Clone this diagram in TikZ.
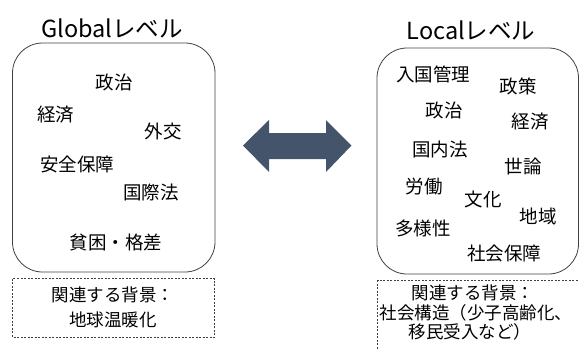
\documentclass[tikz,border=0pt]{standalone}
\usepackage{fontspec}
\setmainfont{Noto Sans CJK JP}
\definecolor{arrowblue}{HTML}{44546A}
\definecolor{lineg}{HTML}{404040}
\begin{document}
\begin{tikzpicture}[x=1pt,y=-1pt,
  word/.style={inner sep=0pt,font=\fontsize{18.5}{20}\selectfont},
  title/.style={inner sep=0pt,font=\fontsize{23.5}{25}\selectfont},
  bg/.style={inner sep=0pt,align=center,font=\fontsize{17.5}{20}\selectfont},
  levelbox/.style={draw=lineg,line width=0.8pt,rounded corners=30pt},
  bgbox/.style={draw=lineg,line width=0.7pt,dash pattern=on 2pt off 1.5pt}]
\useasboundingbox (0,0) rectangle (579,349);
% titles
\node[title] (gt) at (112,28) {Globalレベル};
\node[title] (lt) at (471,30) {Localレベル};
% boxes
\draw[levelbox] (12.5,43) rectangle (215,272);
\draw[levelbox] (377,48) rectangle (578.5,274);
% double arrow
\fill[arrowblue] (243,145.5) -- (269,120) -- (269,133) -- (326,133) -- (326,120)
  -- (351.5,145.5) -- (326,172) -- (326,159) -- (269,159) -- (269,172) -- cycle;
% left words
\node[word] (g1) at (114,82) {政治};
\node[word] (g2) at (56,115) {経済};
\node[word] (g3) at (163,131) {外交};
\node[word] (g4) at (77,164) {安全保障};
\node[word] (g5) at (151,192) {国際法};
\node[word] (g6) at (116,242) {貧困・格差};
% right words
\node[word] (l1) at (433,74) {入国管理};
\node[word] (l2) at (518,86) {政策};
\node[word] (l3) at (444,110) {政治};
\node[word] (l4) at (530,122) {経済};
\node[word] (l5) at (440,149) {国内法};
\node[word] (l6) at (523,166) {世論};
\node[word] (l7) at (424,187) {労働};
\node[word] (l8) at (483,199) {文化};
\node[word] (l9) at (538,216) {地域};
\node[word] (l10) at (423,228) {多様性};
\node[word] (l11) at (504,253) {社会保障};
% background boxes
\draw[bgbox] (12.5,278.5) rectangle (214.5,337);
\node[bg] (gb1) at (113,295) {関連する背景：};
\node[bg] (gb2) at (113,320) {地球温暖化};
\draw[bgbox] (377.5,280) rectangle (590,360);
\node[bg] (lb1) at (473,293) {関連する背景：};
\node[bg] (lb2) at (476,313) {社会構造（少子高齢化、};
\node[bg] (lb3) at (470,332) {移民受入など）};
\end{tikzpicture}
\end{document}
